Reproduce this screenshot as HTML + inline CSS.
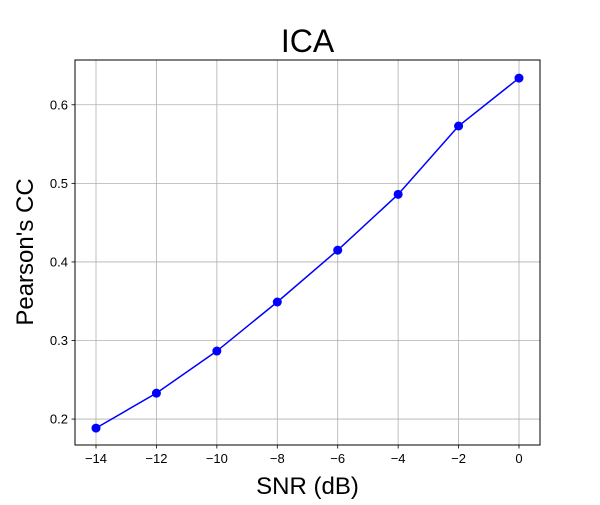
<!DOCTYPE html>
<html><head><meta charset="utf-8"><style>
body{margin:0;background:#fff;}
svg text{font-family:"Liberation Sans","DejaVu Sans",sans-serif;}
</style></head><body>
<svg id="chart" width="600" height="500" xmlns="http://www.w3.org/2000/svg">
<rect width="600" height="500" fill="#fff"/>
<text x="307.5" y="52" font-size="32" text-anchor="middle">ICA</text>
<g id="grid"></g>
<g id="ticks"></g>
<rect x="75" y="60" width="465" height="385" fill="none" stroke="#000" stroke-width="1"/>
<g id="series"></g>
<text x="307.5" y="494" font-size="24" text-anchor="middle">SNR (dB)</text>
<text x="0" y="0" font-size="24" text-anchor="middle" transform="translate(33,252) rotate(-90)">Pearson's CC</text>
</svg>
<script>
const xValues = [-14, -12, -10, -8, -6, -4, -2, 0];
const ccValues = [0.1885, 0.233, 0.2866, 0.349, 0.415, 0.486, 0.573, 0.634];
const xTicks = [-14, -12, -10, -8, -6, -4, -2, 0];
const yTicks = [0.2, 0.3, 0.4, 0.5, 0.6];

const L=75,R=540,T=60,B=445;
const xMin=-14.695,xMax=0.695,yMin=0.167,yMax=0.657;
const sx=v=>L+(v-xMin)/(xMax-xMin)*(R-L);
const sy=v=>B-(v-yMin)/(yMax-yMin)*(B-T);
const NS="http://www.w3.org/2000/svg";
const grid=document.getElementById('grid'),ticks=document.getElementById('ticks'),series=document.getElementById('series');
function mk(tag,attrs,parent){const e=document.createElementNS(NS,tag);for(const k in attrs)e.setAttribute(k,attrs[k]);parent.appendChild(e);return e;}
xTicks.forEach(v=>{
  const x=sx(v);
  const g=mk('line',{x1:x,x2:x,y1:T,y2:B,stroke:'#b0b0b0','stroke-width':0.8},grid);
  
  
  const t=mk('line',{x1:x,x2:x,y1:B,y2:B+3.5,stroke:'#000','stroke-width':0.8},ticks);
  
  
  const l=mk('text',{x:x,y:B+18,'font-size':13,'text-anchor':'middle'},ticks);
  l.textContent=(v<0?'\u2212'+(-v):v);
  
  
});
yTicks.forEach(v=>{
  const y=sy(v);
  const g=mk('line',{x1:L,x2:R,y1:y,y2:y,stroke:'#b0b0b0','stroke-width':0.8},grid);
  
  
  const t=mk('line',{x1:L-3.5,x2:L,y1:y,y2:y,stroke:'#000','stroke-width':0.8},ticks);
  
  
  const l=mk('text',{x:L-7,y:y+4.5,'font-size':13,'text-anchor':'end'},ticks);
  l.textContent=v.toFixed(1);
  
  
});
const pts=xValues.map((v,i)=>sx(v)+','+sy(ccValues[i])).join(' ');
const pl=mk('polyline',{points:pts,fill:'none',stroke:'#0000ff','stroke-width':1.5},series);


xValues.forEach((v,i)=>{
  const c=mk('circle',{cx:sx(v),cy:sy(ccValues[i]),r:4.5,fill:'#0000ff'},series);
  
  
});
</script>
</body></html>
